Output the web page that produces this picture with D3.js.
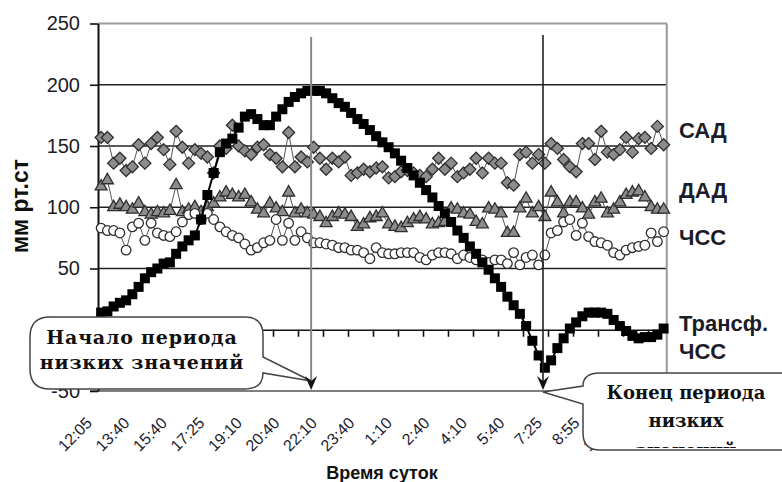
<!DOCTYPE html>
<html>
<head>
<meta charset="utf-8">
<script src="https://cdn.jsdelivr.net/npm/d3@7"></script>
<style>
html, body { margin: 0; padding: 0; background: #fff; }
svg { display: block; }
</style>
</head>
<body>
<div id="chart"></div>
<script>
const width = 782
const height = 482

// labels every 6th measurement
const tickLabels = ['12:05', '13:40', '15:40', '17:25', '19:10', '20:40', '22:10', '23:40',
  '1:10', '2:40', '4:10', '5:40', '7:25', '8:55', '10:25']
const yTicks = [-50, 0, 50, 100, 150, 200, 250]

const sad = [157, 157, 136, 140, 130, 133, 151, 136, 152, 157,
  147, 135, 162, 149, 136, 147, 144, 141, 128, 150,
  148, 167, 150, 146, 143, 149, 151, 143, 140, 133,
  161, 133, 141, 137, 149, 140, 131, 140, 137, 141,
  126, 128, 131, 129, 132, 133, 124, 125, 129, 130,
  128, 126, 125, 131, 140, 131, 136, 125, 128, 131,
  140, 128, 140, 136, 136, 120, 118, 143, 145, 136,
  143, 136, 152, 148, 139, 133, 129, 152, 152, 139,
  162, 145, 143, 147, 157, 145, 156, 157, 148, 166,
  151]

const dad = [117, 122, 100, 102, 100, 98, 103, 96, 94, 96,
  95, 97, 118, 96, 98, 100, 96, 100, 103, 108,
  112, 110, 108, 110, 104, 98, 95, 103, 99, 96,
  112, 95, 98, 95, 94, 92, 87, 92, 95, 94,
  92, 84, 86, 91, 92, 95, 86, 84, 83, 87,
  90, 92, 90, 86, 87, 88, 99, 98, 95, 94,
  88, 86, 99, 98, 95, 79, 79, 99, 107, 95,
  100, 92, 112, 104, 95, 104, 104, 99, 94, 104,
  107, 95, 98, 104, 110, 112, 113, 108, 100, 98,
  98]

const chss = [83, 81, 81, 79, 65, 84, 87, 73, 87, 79,
  77, 76, 80, 88, 94, 95, 90, 95, 90, 84,
  80, 77, 75, 70, 65, 67, 71, 73, 90, 73,
  87, 73, 80, 75, 71, 71, 70, 69, 67, 67,
  65, 65, 63, 58, 67, 63, 62, 62, 63, 63,
  63, 59, 57, 61, 63, 63, 62, 58, 61, 59,
  57, 57, 55, 57, 57, 54, 63, 53, 59, 61,
  53, 61, 79, 81, 88, 90, 77, 87, 76, 72,
  71, 69, 63, 61, 65, 67, 68, 69, 79, 72,
  80]

const transf = [14, 15, 19, 22, 24, 29, 35, 42, 47, 50,
  54, 55, 62, 68, 73, 77, 90, 110, 128, 145,
  152, 156, 165, 174, 176, 172, 167, 167, 174, 180,
  186, 190, 193, 195, 195, 195, 193, 189, 185, 182,
  177, 172, 168, 163, 158, 153, 149, 144, 138, 132,
  126, 120, 114, 108, 101, 95, 88, 81, 75, 68,
  62, 55, 49, 42, 35, 27, 20, 13, 3, -9,
  -21, -31, -25, -15, -7, 1, 6, 11, 14, 14,
  14, 13, 8, 3, -1, -5, -7, -6, -6, -4,
  1]

// start / end of the low-values period (in measurement index)
const periodIdx = [33.6, 70.7]

const svg = d3.select('#chart')
  .append('svg')
  .attr('width', width)
  .attr('height', height)
  .style('font-family', '"Liberation Sans", Arial, sans-serif')

const x = d3.scaleLinear().domain([-0.5, sad.length - 0.5]).range([98, 666.75])
const y = d3.scaleLinear().domain([-50, 250]).range([391, 23.5])

// grid
svg.append('g')
  .selectAll('line')
  .data(yTicks.filter(d => d > 0))
  .join('line')
  .attr('x1', x.range()[0]).attr('x2', x.range()[1])
  .attr('y1', d => y(d)).attr('y2', d => y(d))
  .attr('stroke', d => d === 250 ? '#999' : '#222')
  .attr('stroke-width', d => d === 250 ? 2 : 1.7)

// bottom edge (-50) and right edge
svg.append('line')
  .attr('x1', 90).attr('x2', x.range()[1])
  .attr('y1', y(-50)).attr('y2', y(-50))
  .attr('stroke', '#555').attr('stroke-width', 1.6)
svg.append('line')
  .attr('x1', x.range()[1]).attr('x2', x.range()[1])
  .attr('y1', y(250)).attr('y2', y(-50))
  .attr('stroke', '#999').attr('stroke-width', 2)

// y axis (the 0 label sits behind the callout in the original)
const yAxis = svg.append('g')
  .attr('transform', `translate(${x.range()[0]},0)`)
  .call(d3.axisLeft(y).tickValues(yTicks).tickSize(8).tickSizeOuter(0).tickPadding(10)
    .tickFormat(d => d === 0 ? '' : d))
yAxis.select('.domain').attr('stroke', '#111').attr('stroke-width', 2)
yAxis.selectAll('.tick line').attr('stroke', '#111').attr('stroke-width', 1.6)
yAxis.selectAll('.tick text')
  .attr('font-size', 20)
  .attr('fill', '#1c1c28')
  .attr('font-family', '"Liberation Sans", Arial, sans-serif')

// x axis at 0 with tick marks every 4 measurements
const xAxis = svg.append('g')
  .attr('transform', `translate(0,${y(0)})`)
  .call(d3.axisBottom(x).tickValues(d3.range(3.5, sad.length - 1, 4)).tickSize(7).tickSizeOuter(0).tickFormat(''))
xAxis.select('.domain').attr('stroke', '#111').attr('stroke-width', 1.6)
xAxis.selectAll('.tick line').attr('stroke', '#111').attr('stroke-width', 1.6)

// x tick labels
svg.append('g')
  .selectAll('text')
  .data(tickLabels)
  .join('text')
  .attr('transform', (d, i) => `translate(${x(i * 6) - 8},424) rotate(-45)`)
  .attr('text-anchor', 'end')
  .attr('font-size', 16)
  .attr('fill', '#1c1c30')
  .text(d => d)

// axis titles
svg.append('text')
  .attr('x', 382).attr('y', 479)
  .attr('text-anchor', 'middle')
  .attr('font-size', 18).attr('font-weight', 'bold')
  .attr('fill', '#111')
  .text('Время суток')
svg.append('text')
  .attr('transform', 'translate(28,206) rotate(-90)')
  .attr('text-anchor', 'middle')
  .attr('font-size', 23).attr('font-weight', 'bold')
  .attr('fill', '#111')
  .text('мм рт.ст')

// series
const line = d3.line().x((d, i) => x(i)).y(d => y(d))
const drawSeries = (data, color, lw) => {
  svg.append('path')
    .datum(data)
    .attr('d', line)
    .attr('fill', 'none')
    .attr('stroke', color)
    .attr('stroke-width', lw)
}
drawSeries(sad, '#555', 1)
drawSeries(dad, '#555', 1)
drawSeries(chss, '#555', 1)

const diamond = 'M0,-6L6,0L0,6L-6,0Z'
svg.append('g').selectAll('path').data(sad).join('path')
  .attr('d', diamond)
  .attr('transform', (d, i) => `translate(${x(i)},${y(d)})`)
  .attr('fill', '#8c8c8c').attr('stroke', '#2e2e2e').attr('stroke-width', 1.3)

svg.append('g').selectAll('path').data(dad).join('path')
  .attr('d', d3.symbol(d3.symbolTriangle, 62))
  .attr('transform', (d, i) => `translate(${x(i)},${y(d)})`)
  .attr('fill', '#8c8c8c').attr('stroke', '#2e2e2e').attr('stroke-width', 1.3)

svg.append('g').selectAll('circle').data(chss).join('circle')
  .attr('cx', (d, i) => x(i)).attr('cy', d => y(d)).attr('r', 4.8)
  .attr('fill', '#fff').attr('stroke', '#2e2e2e').attr('stroke-width', 1.3)

drawSeries(transf, '#000', 2)
svg.append('g').selectAll('rect').data(transf).join('rect')
  .attr('x', (d, i) => x(i) - 5).attr('y', d => y(d) - 5)
  .attr('width', 10).attr('height', 10)
  .attr('fill', '#000')

// vertical markers with arrows
const arrow = (cx) => `M${cx},${y(-50) - 1}L${cx - 6},${y(-50) - 15}L${cx},${y(-50) - 10}L${cx + 6},${y(-50) - 15}Z`
svg.append('line')
  .attr('x1', x(periodIdx[0])).attr('x2', x(periodIdx[0]))
  .attr('y1', 37).attr('y2', y(-50) - 6)
  .attr('stroke', '#888').attr('stroke-width', 2)
svg.append('line')
  .attr('x1', x(periodIdx[1])).attr('x2', x(periodIdx[1]))
  .attr('y1', 35).attr('y2', y(-50) - 6)
  .attr('stroke', '#222').attr('stroke-width', 1.6)

// callouts
const tip1 = [x(periodIdx[0]), 381]
svg.append('path')
  .attr('d', `M50,317 L245,317 Q263,317 263,335 L263,357 L${tip1[0]},${tip1[1]} L263,373 Q263,389 245,389 L50,389 Q30,389 30,369 L30,337 Q30,317 50,317 Z`)
  .attr('fill', '#fff').attr('stroke', '#444').attr('stroke-width', 1.5)

const tip2 = [x(periodIdx[1]), 392]
svg.append('path')
  .attr('d', `M600,373 L800,373 L800,450 L600,450 Q583,450 583,433 L583,404 L${tip2[0]},${tip2[1]} L583,386 Q583,373 600,373 Z`)
  .attr('fill', '#fff').attr('stroke', '#444').attr('stroke-width', 1.5)

svg.append('path').attr('d', arrow(x(periodIdx[0]))).attr('fill', '#111')
svg.append('path').attr('d', arrow(x(periodIdx[1]))).attr('fill', '#111')

svg.append('clipPath').attr('id', 'clip2')
  .append('rect').attr('x', 584).attr('y', 374).attr('width', 200).attr('height', 74)

const calloutFont = '"DejaVu Serif", "Liberation Serif", serif'
const c1 = svg.append('g').attr('font-family', calloutFont).attr('font-weight', 'bold')
  .attr('font-size', 19).attr('fill', '#111').attr('text-anchor', 'middle')
  .attr('letter-spacing', 0.8)
c1.append('text').attr('x', 142).attr('y', 344).text('Начало периода')
c1.append('text').attr('x', 142).attr('y', 369).text('низких значений')

const c2 = svg.append('g').attr('font-family', calloutFont).attr('font-weight', 'bold')
  .attr('font-size', 18).attr('fill', '#111').attr('text-anchor', 'middle')
  .attr('clip-path', 'url(#clip2)')
c2.append('text').attr('x', 686).attr('y', 399).text('Конец периода')
c2.append('text').attr('x', 686).attr('y', 427).text('низких')
c2.append('text').attr('x', 686).attr('y', 456.5).text('значений')

// series names on the right
const names = [['САД', 138], ['ДАД', 198], ['ЧСС', 245], ['Трансф.', 331], ['ЧСС', 359]]
svg.append('g')
  .selectAll('text')
  .data(names)
  .join('text')
  .attr('x', 679).attr('y', d => d[1])
  .attr('font-size', 22).attr('font-weight', 'bold')
  .attr('fill', '#1c1c28')
  .text(d => d[0])
</script>
</body>
</html>
